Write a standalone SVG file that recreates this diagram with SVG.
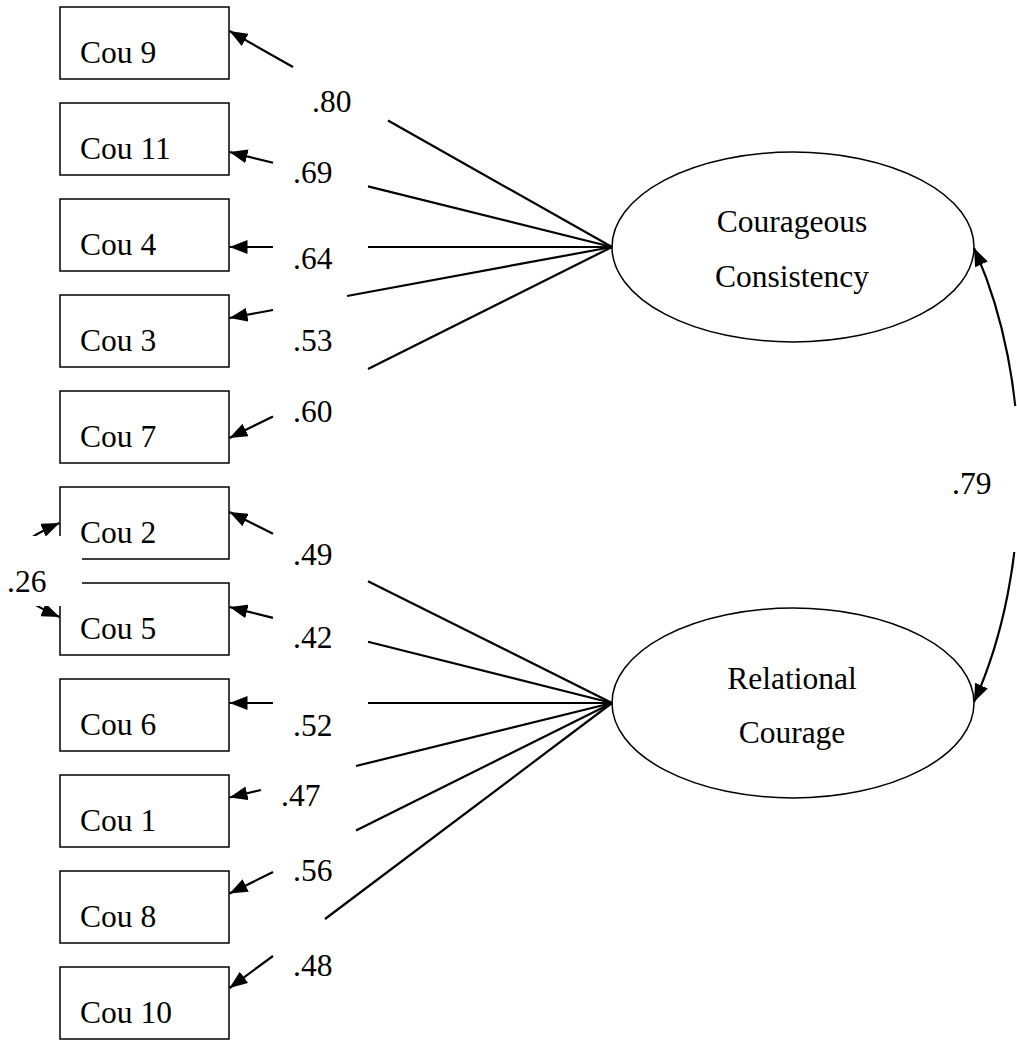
<svg xmlns="http://www.w3.org/2000/svg" width="1017" height="1041" viewBox="0 0 1017 1041">
<style>
.box{fill:#fff;stroke:#000;stroke-width:1.5}
.lat{fill:#fff;stroke:#000;stroke-width:1.5}
.t{font-family:'Liberation Serif','Times New Roman','DejaVu Serif',serif;font-size:31.5px;fill:#000}
.c{text-anchor:middle}
.ln{stroke:#000;stroke-width:2.2;fill:none}
.arr{stroke:#000;stroke-width:2.2;fill:none;marker-end:url(#ah)}
.cov{fill:#fff;stroke:none}
</style>
<defs>
<marker id="ah" markerUnits="userSpaceOnUse" markerWidth="19" markerHeight="14" refX="18" refY="7" orient="auto-start-reverse">
<path d="M0,0 L18,7 L0,14 z" fill="#000"/>
</marker>
</defs>
<rect width="1017" height="1041" fill="#fff"/>
<g id="nodes">
<g id="cou9"><rect class="box" x="60" y="7" width="169" height="72"/><text class="t" x="80" y="63">Cou 9</text></g>
<g id="cou11"><rect class="box" x="60" y="103" width="169" height="72"/><text class="t" x="80" y="159">Cou 11</text></g>
<g id="cou4"><rect class="box" x="60" y="199" width="169" height="72"/><text class="t" x="80" y="255">Cou 4</text></g>
<g id="cou3"><rect class="box" x="60" y="295" width="169" height="72"/><text class="t" x="80" y="351">Cou 3</text></g>
<g id="cou7"><rect class="box" x="60" y="391" width="169" height="72"/><text class="t" x="80" y="447">Cou 7</text></g>
<g id="cou2"><rect class="box" x="60" y="487" width="169" height="72"/><text class="t" x="80" y="543">Cou 2</text></g>
<g id="cou5"><rect class="box" x="60" y="583" width="169" height="72"/><text class="t" x="80" y="639">Cou 5</text></g>
<g id="cou6"><rect class="box" x="60" y="679" width="169" height="72"/><text class="t" x="80" y="735">Cou 6</text></g>
<g id="cou1"><rect class="box" x="60" y="775" width="169" height="72"/><text class="t" x="80" y="831">Cou 1</text></g>
<g id="cou8"><rect class="box" x="60" y="871" width="169" height="72"/><text class="t" x="80" y="927">Cou 8</text></g>
<g id="cou10"><rect class="box" x="60" y="967" width="169" height="72"/><text class="t" x="80" y="1023">Cou 10</text></g>
<g id="courageous-consistency"><ellipse class="lat" cx="793" cy="247" rx="181" ry="95"/><text class="t c" x="792" y="232">Courageous</text><text class="t c" x="792" y="287">Consistency</text></g>
<g id="relational-courage"><ellipse class="lat" cx="793" cy="703" rx="181" ry="95"/><text class="t c" x="792" y="689">Relational</text><text class="t c" x="792" y="743">Courage</text></g>
</g>
<g id="connectors">
<line class="ln" x1="388" y1="120.5" x2="612" y2="247"/><line class="arr" x1="293" y1="67" x2="229.5" y2="31"/>
<line class="ln" x1="368" y1="186.4" x2="612" y2="247"/><line class="arr" x1="273" y1="162.8" x2="229.5" y2="152"/>
<line class="ln" x1="368" y1="247" x2="612" y2="247"/><line class="arr" x1="273" y1="247" x2="229.5" y2="247"/>
<line class="ln" x1="347" y1="296" x2="612" y2="247"/><line class="arr" x1="273" y1="310" x2="229.5" y2="318"/>
<line class="ln" x1="368" y1="369" x2="612" y2="247"/><line class="arr" x1="273" y1="416.4" x2="229.5" y2="438"/>
<line class="ln" x1="368" y1="581.2" x2="612" y2="703"/><line class="arr" x1="273" y1="533.7" x2="229.5" y2="512"/>
<line class="ln" x1="368" y1="641.8" x2="612" y2="703"/><line class="arr" x1="273" y1="617.9" x2="229.5" y2="607"/>
<line class="ln" x1="368" y1="703" x2="612" y2="703"/><line class="arr" x1="273" y1="703" x2="229.5" y2="703"/>
<line class="ln" x1="356" y1="766" x2="612" y2="703"/><line class="arr" x1="261" y1="790" x2="229.5" y2="797.5"/>
<line class="ln" x1="356" y1="830.5" x2="612" y2="703"/><line class="arr" x1="273" y1="872" x2="229.5" y2="893.5"/>
<line class="ln" x1="325" y1="919" x2="612" y2="703"/><line class="arr" x1="273" y1="956" x2="229.5" y2="988"/>
<path class="ln" d="M974,248 C1034,380 1034,570 974,702" marker-start="url(#ah)" marker-end="url(#ah)"/>
<path class="ln" d="M59.5,523 C-10,553 -10,587 59.5,617" marker-start="url(#ah)" marker-end="url(#ah)"/>
</g>
<g id="labels">
<rect class="cov" x="-1" y="536" width="83" height="70"/>
<rect class="cov" x="940" y="406" width="77" height="146"/>
<text class="t" x="312" y="112">.80</text>
<text class="t" x="293" y="183">.69</text>
<text class="t" x="293" y="269">.64</text>
<text class="t" x="293" y="351">.53</text>
<text class="t" x="293" y="422">.60</text>
<text class="t" x="293" y="565">.49</text>
<text class="t" x="293" y="648">.42</text>
<text class="t" x="293" y="736">.52</text>
<text class="t" x="281" y="806">.47</text>
<text class="t" x="293" y="881">.56</text>
<text class="t" x="293" y="976">.48</text>
<text class="t" x="7" y="592">.26</text>
<text class="t" x="952" y="494">.79</text>
</g>
</svg>
